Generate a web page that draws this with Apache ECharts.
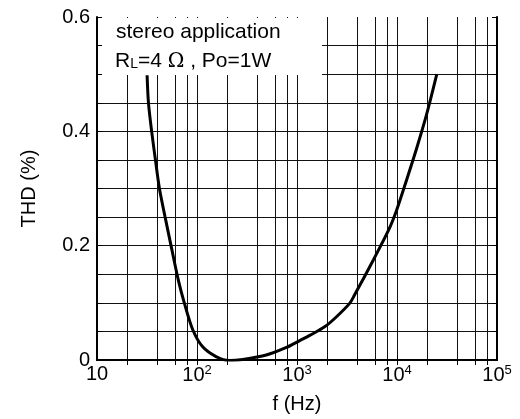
<!doctype html>
<html lang="en">
<head>
    <meta charset="UTF-8">
    <title>THD vs f</title>
    <style>
        html, body { margin: 0; padding: 0; background: #fff; }
        #main { width: 520px; height: 419px; }
    </style>
</head>
<body>
<div id="main"></div>
<script src="https://cdn.jsdelivr.net/npm/echarts@6/dist/echarts.min.js"></script>
<script>
    // 读图得到的数据 (Hz, %)
    var freq = [31.7, 32.7, 35.2, 38.4, 42.1, 48, 55, 65.6, 74.9, 90.9, 114, 155, 211, 287, 493, 784, 1064, 1340, 1890, 2485, 3360, 3770, 5800, 8230, 9910, 12470, 15700, 19800, 25000];
    var thd = [0.498, 0.45, 0.4, 0.35, 0.3, 0.25, 0.2, 0.137, 0.099, 0.0525, 0.023, 0.006, -0.001, 0.001, 0.0087, 0.022, 0.034, 0.043, 0.058, 0.0757, 0.099, 0.114, 0.175, 0.227, 0.262, 0.315, 0.37, 0.43, 0.5];
    var yLabels = [0, 0.2, 0.4, 0.6];
    var decades = [10, 100, 1000, 10000];
    var steps = [1, 2, 4, 6, 8];

    var FONT = 'Liberation Sans, Arial, sans-serif';

    // 网格线位置
    var vLines = [];
    decades.forEach(function (d) {
        steps.forEach(function (s) {
            if (d * s > 10) vLines.push(d * s);
        });
    });
    var hLines = [];
    for (var i = 1; i < 12; i++) hLines.push(+(i * 0.05).toFixed(2));

    var pts = freq.map(function (f, i) { return [f, thd[i]]; });

    var gridMark = vLines.map(function (v) { return { xAxis: v }; })
        .concat(hLines.map(function (v) { return { yAxis: v }; }));

    function xLabel(v) {
        var p = Math.round(Math.log10(v));
        if (p === 1) return '10';
        return '10{sup|' + p + '}';
    }

    var myChart = echarts.init(document.getElementById('main'));
    var option = {
        animation: false,
        backgroundColor: '#fff',
        textStyle: { fontFamily: FONT },
        grid: { left: 97, right: 23, top: 17, bottom: 59, containLabel: false },
        xAxis: [{
            type: 'log',
            logBase: 10,
            min: 10,
            max: 100000,
            name: 'f (Hz)',
            nameLocation: 'middle',
            nameGap: 34,
            nameTextStyle: { fontSize: 20, color: '#000', fontFamily: FONT },
            axisLine: { lineStyle: { color: '#000', width: 2 } },
            axisTick: { inside: true, length: 5, lineStyle: { color: '#000' } },
            splitLine: { show: false },
            axisLabel: {
                color: '#000',
                fontSize: 20,
                fontFamily: FONT,
                margin: 4,
                formatter: xLabel,
                rich: {
                    sup: { fontSize: 13, verticalAlign: 'top', color: '#000', fontFamily: FONT, padding: [0, 0, 10, 0] }
                }
            },
            z: 10
        }, {
            type: 'log',
            logBase: 10,
            min: 10,
            max: 100000,
            position: 'top',
            axisLine: { lineStyle: { color: '#000', width: 2 } },
            axisTick: { inside: true, length: 5, customValues: vLines, lineStyle: { color: '#000' } },
            axisLabel: { show: false },
            splitLine: { show: false },
            z: 10
        }],
        yAxis: [{
            type: 'value',
            min: 0,
            max: 0.6,
            interval: 0.05,
            name: 'THD (%)',
            nameLocation: 'middle',
            nameGap: 58,
            nameTextStyle: { fontSize: 20, color: '#000', fontFamily: FONT },
            axisLine: { show: true, lineStyle: { color: '#000', width: 2 } },
            axisTick: { show: true, inside: true, length: 5, lineStyle: { color: '#000' } },
            splitLine: { show: false },
            axisLabel: {
                color: '#000',
                fontSize: 20,
                fontFamily: FONT,
                margin: 7,
                formatter: function (v) {
                    for (var k = 0; k < yLabels.length; k++) {
                        if (Math.abs(v - yLabels[k]) < 1e-6) return String(yLabels[k]);
                    }
                    return '';
                }
            },
            z: 10
        }, {
            type: 'value',
            min: 0,
            max: 0.6,
            interval: 0.05,
            position: 'right',
            axisLine: { show: true, lineStyle: { color: '#000', width: 2 } },
            axisTick: { show: true, inside: true, length: 5, lineStyle: { color: '#000' } },
            axisLabel: { show: false },
            splitLine: { show: false },
            z: 10
        }],
        graphic: [{
            type: 'rect',
            shape: { x: 98, y: 18, width: 224, height: 57 },
            style: { fill: '#fff' },
            z: 5
        }, {
            type: 'text',
            left: 116,
            top: 22,
            style: { text: 'stereo application', font: '21px ' + FONT, fill: '#000' },
            z: 6
        }, {
            type: 'text',
            left: 115,
            top: 51,
            style: {
                text: '{a|R}{s|L}{a|=4 }{o|Ω}{a| , Po=1W}',
                fill: '#000',
                rich: {
                    a: { fontSize: 21, fontFamily: FONT, verticalAlign: 'bottom' },
                    s: { fontSize: 14, fontFamily: FONT, verticalAlign: 'bottom', padding: [0, 0, 1, 0] },
                    o: { fontSize: 20, fontFamily: 'DejaVu Serif, serif', verticalAlign: 'bottom' }
                }
            },
            z: 6
        }],
        series: [{
            name: 'grid',
            type: 'line',
            data: [],
            silent: true,
            z: 1,
            markLine: {
                silent: true,
                z: 1,
                symbol: ['none', 'none'],
                label: { show: false },
                lineStyle: { type: 'solid', color: '#111', width: 1 },
                data: gridMark
            }
        }, {
            name: 'THD',
            type: 'line',
            data: pts,
            smooth: 0.3,
            symbol: 'none',
            lineStyle: { color: '#000', width: 3 },
            z: 3
        }]
    };
    myChart.setOption(option);
</script>
</body>
</html>
